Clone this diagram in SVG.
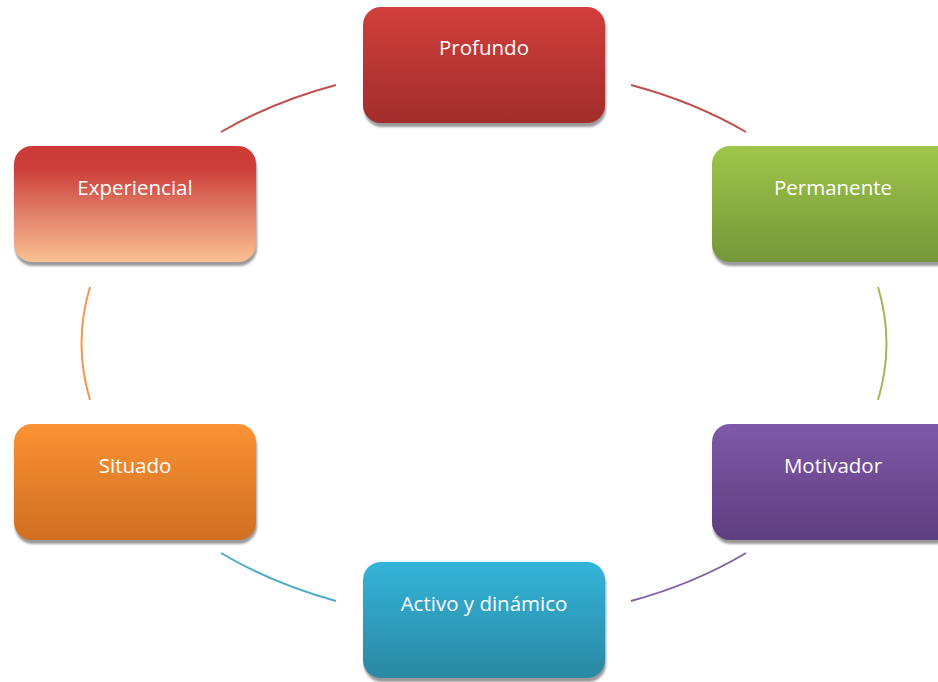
<svg xmlns="http://www.w3.org/2000/svg" width="938" height="682" viewBox="0 0 938 682">
<defs>
<linearGradient id="gRed" x1="0" y1="0" x2="0" y2="1"><stop offset="0" stop-color="#D13F3C"/><stop offset="1" stop-color="#A12D2B"/></linearGradient>
<linearGradient id="gExp" x1="0" y1="0" x2="0" y2="1"><stop offset="0" stop-color="#CB3A37"/><stop offset="0.2" stop-color="#CD3E3A"/><stop offset="0.6" stop-color="#E2836B"/><stop offset="1" stop-color="#FAC192"/></linearGradient>
<linearGradient id="gGreen" x1="0" y1="0" x2="0" y2="1"><stop offset="0" stop-color="#9FC64A"/><stop offset="1" stop-color="#75963A"/></linearGradient>
<linearGradient id="gOrange" x1="0" y1="0" x2="0" y2="1"><stop offset="0" stop-color="#FA9334"/><stop offset="1" stop-color="#D06E22"/></linearGradient>
<linearGradient id="gBlue" x1="0" y1="0" x2="0" y2="1"><stop offset="0" stop-color="#33B4D9"/><stop offset="1" stop-color="#2A88A2"/></linearGradient>
<linearGradient id="gPurple" x1="0" y1="0" x2="0" y2="1"><stop offset="0" stop-color="#7F59A8"/><stop offset="1" stop-color="#5D3E7F"/></linearGradient>
<filter id="blur" x="-10%" y="-10%" width="120%" height="130%"><feGaussianBlur stdDeviation="1"/></filter>
</defs>
<style>
.shadow{fill:#9A9A9A;filter:url(#blur)}
.lbl{font-family:"Open Sans","Liberation Sans",sans-serif;font-size:20.5px;fill:#FFFFFF;text-anchor:middle}
.arc{fill:none;stroke-width:2}
</style>
<rect width="938" height="682" fill="#FFFFFF"/>
<g id="connectors">
<path class="arc" stroke="#C0504D" d="M 221 132 A 402 278 0 0 1 336 85"/>
<path class="arc" stroke="#C0504D" d="M 631 85 A 402 278 0 0 1 746 132"/>
<path class="arc" stroke="#9BBB59" d="M 878 287 A 402 278 0 0 1 878 400"/>
<path class="arc" stroke="#8064A2" d="M 746 553 A 402 278 0 0 1 631 601"/>
<path class="arc" stroke="#4BACC6" d="M 336 601 A 402 278 0 0 1 221 553"/>
<path class="arc" stroke="#F79646" d="M 90 400 A 402 278 0 0 1 90 287"/>
</g>
<g id="node-profundo">
<rect class="shadow" x="364" y="11" width="242" height="116" rx="18"/>
<rect x="363" y="7" width="242" height="116" rx="18" fill="url(#gRed)"/>
<text class="lbl" x="484" y="55">Profundo</text>
</g>
<g id="node-permanente">
<rect class="shadow" x="713" y="150" width="242" height="116" rx="18"/>
<rect x="712" y="146" width="242" height="116" rx="18" fill="url(#gGreen)"/>
<text class="lbl" x="833" y="195">Permanente</text>
</g>
<g id="node-motivador">
<rect class="shadow" x="713" y="428" width="242" height="116" rx="18"/>
<rect x="712" y="424" width="242" height="116" rx="18" fill="url(#gPurple)"/>
<text class="lbl" x="833" y="473">Motivador</text>
</g>
<g id="node-activo">
<rect class="shadow" x="364" y="566" width="242" height="116" rx="18"/>
<rect x="363" y="562" width="242" height="116" rx="18" fill="url(#gBlue)"/>
<text class="lbl" x="484" y="611">Activo y dinámico</text>
</g>
<g id="node-situado">
<rect class="shadow" x="15" y="428" width="242" height="116" rx="18"/>
<rect x="14" y="424" width="242" height="116" rx="18" fill="url(#gOrange)"/>
<text class="lbl" x="135" y="473">Situado</text>
</g>
<g id="node-experiencial">
<rect class="shadow" x="15" y="150" width="242" height="116" rx="18"/>
<rect x="14" y="146" width="242" height="116" rx="18" fill="url(#gExp)"/>
<text class="lbl" x="135" y="195">Experiencial</text>
</g>
</svg>
